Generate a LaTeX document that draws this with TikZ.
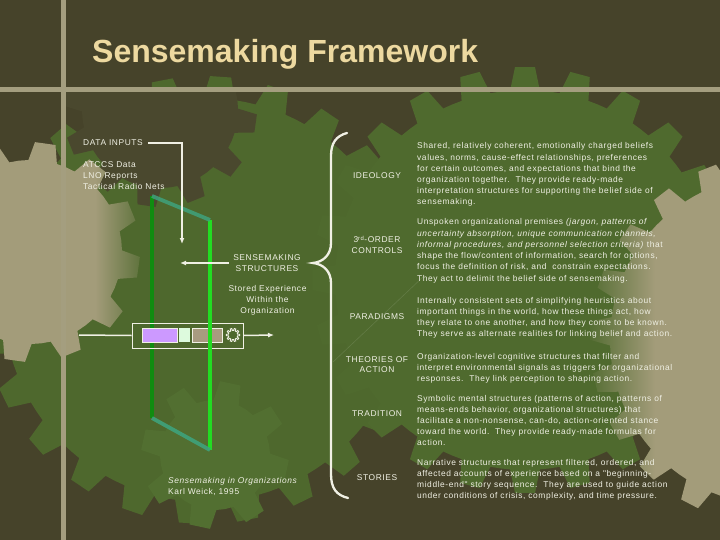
\documentclass[tikz,border=0pt]{standalone}
\usepackage{fontspec}
\setmainfont{Liberation Sans}
\newfontfamily\bodyfont[LetterSpace=7]{Liberation Sans}
\usetikzlibrary{arrows.meta,calc}
\definecolor{bgdark}{HTML}{46432A}
\definecolor{gA}{HTML}{4E682D}
\definecolor{gB}{HTML}{4F6A2E}
\definecolor{gC}{HTML}{4A482E}
\definecolor{gE}{HTML}{526F31}
\definecolor{tanbg}{HTML}{A39C7A}
\definecolor{rulec}{HTML}{A49E7F}
\definecolor{titlec}{HTML}{EDD9A0}
\definecolor{ink}{HTML}{F0F0E4}
\definecolor{dkgreen}{HTML}{108C10}
\definecolor{brgreen}{HTML}{22DD22}
\definecolor{tealc}{HTML}{3FA27C}
\definecolor{purp}{HTML}{CC99FF}
\definecolor{mint}{HTML}{DDFADD}
\definecolor{khaki}{HTML}{A89B80}
\newcommand\gearcmd[7]{%
  \pgfmathsetmacro\gstp{360/#5}%
  \path[#7] ($(#1,#2)+({#6+0.5*\gstp}:#3)$)
    \foreach \k in {1,...,#5}{
      -- ($(#1,#2)+({#6+\k*\gstp-0.3*\gstp}:#3)$)
      -- ($(#1,#2)+({#6+\k*\gstp-0.18*\gstp}:#4)$)
      -- ($(#1,#2)+({#6+\k*\gstp+0.18*\gstp}:#4)$)
      -- ($(#1,#2)+({#6+\k*\gstp+0.3*\gstp}:#3)$)
      -- ($(#1,#2)+({#6+\k*\gstp+0.5*\gstp}:#3)$)
    } -- cycle;}
\tikzset{
  body/.style={font=\bodyfont\fontsize{8.4}{11}\selectfont, text=ink, inner sep=0pt},
  para/.style={body, anchor=base west},
  lab/.style={body, anchor=base},
  conn/.style={draw=ink, line width=1.8pt},
  arr/.style={conn, -{Latex[length=6pt,width=5pt]}},
}
\begin{document}
\begin{tikzpicture}[x=1pt,y=-1pt]
\useasboundingbox (0,0) rectangle (720,540);
% background
\fill[bgdark] (0,0) rectangle (720,540);
\gearcmd{205}{300}{202}{224}{24}{4}{fill=gA}
\gearcmd{525}{280}{190}{213}{24}{0}{fill=gB}
\begin{scope}
  \clip (0,92) rectangle (720,540);
  \gearcmd{160}{110}{78}{97}{12}{8}{fill=gC}
\end{scope}
\gearcmd{215}{455}{55}{74}{8}{12}{fill=gE}
\begin{scope}
  \gearcmd{30}{252}{92}{110}{12}{8}{clip}
  \fill[tanbg] (-100,0) rectangle (95,540);
  \shade[left color=tanbg, right color=gA] (95,0) rectangle (152,540);
\end{scope}
\begin{scope}
  \gearcmd{775}{340}{165}{185}{22}{3}{clip}
  \shade[left color=gB, right color=tanbg] (585,0) rectangle (655,540);
  \fill[tanbg] (655,0) rectangle (900,540);
\end{scope}
\draw[gE!70!white, opacity=0.35, line width=0.6pt] (333,362) -- (424,276);
% rules
\fill[rulec] (61,0) rectangle (66,540);
\fill[rulec] (0,87.5) rectangle (720,92.5);
% title
\node[font=\fontsize{32}{36}\selectfont\bfseries, text=titlec, anchor=base west, inner sep=0pt] (title) at (92,63) {Sensemaking Framework};
% left column
\node[para] (din) at (83,146) {DATA INPUTS};
\node[para] (atc) at (83,167.5) {ATCCS Data};
\node[para] (lno) at (83,178.5) {LNO Reports};
\node[para] (trn) at (83,189.5) {Tactical Radio Nets};
% parallelogram (left edge under the bar)
\draw[dkgreen, line width=3.8pt] (152,196) -- (152,418);
% stored experience bar
\node[draw=ink, line width=0.9pt, minimum width=111pt, minimum height=25pt, inner sep=0pt] (bar) at (187.5,335.5) {};
\node[draw=ink, fill=purp, line width=0.8pt, minimum width=35pt, minimum height=14pt, inner sep=0pt] (pur) at (159.5,335) {};
\node[fill=mint, minimum width=11pt, minimum height=14pt, inner sep=0pt] (mnt) at (184.5,335) {};
\node[draw=ink, fill=khaki, line width=0.8pt, minimum width=30pt, minimum height=14pt, inner sep=0pt] (kha) at (207,335) {};
\gearcmd{233}{335}{4.6}{6.6}{10}{0}{draw=ink, line width=0.9pt}
% parallelogram rest
\draw[brgreen, line width=3.8pt] (210,220) -- (210,450);
\draw[tealc, opacity=0.85, line width=3.8pt] (152,196) -- (210,220);
\draw[tealc, opacity=0.9, line width=3.8pt] (152,418) -- (210,450);
% connectors
\coordinate (dinend) at (182,244);
\draw[arr] ([xshift=5pt]din.east) -| (dinend);
\node[body, align=center] (sense) at (267,263) {SENSEMAKING\\STRUCTURES};
\coordinate (senseend) at (180,263);
\draw[arr] ([xshift=-4pt]sense.west) -- (senseend);
\node[body, align=center] (stored) at (267.5,300.5) {Stored Experience\\Within the\\Organization};
\coordinate (lstart) at (79,335);
\draw[conn, line width=1.5pt] (lstart) -- (bar.west);
\coordinate (rend) at (274,335);
\draw[arr, line width=1.5pt] (bar.east) -- (rend);
% citation
\node[para, font=\bodyfont\itshape\fontsize{8.4}{11}\selectfont] (cit1) at (168,483) {Sensemaking in Organizations};
\node[para] (cit2) at (168,494) {Karl Weick, 1995};
% brace
\draw[ink, line width=2.3pt, line cap=round] (347,133) .. controls (336,136) and (331,143) .. (331,156) -- (331,243) .. controls (331,255) and (323,262) .. (313,263) .. controls (323,264) and (331,271) .. (331,283) -- (331,474) .. controls (331,488) and (336,495) .. (348,498);
% labels
\node[lab] (l1) at (377,179) {IDEOLOGY};
\node[lab] (l2a) at (377,243) {3\textsuperscript{rd}-ORDER};
\node[lab] (l2b) at (377,254) {CONTROLS};
\node[lab] (l3) at (377,319) {PARADIGMS};
\node[lab] (l4a) at (377,362) {THEORIES OF};
\node[lab] (l4b) at (377,372.5) {ACTION};
\node[lab] (l5) at (377,416) {TRADITION};
\node[lab] (l6) at (377,480) {STORIES};
% paragraph 1
\node[para] (p1a) at (417,149) {Shared, relatively coherent, emotionally charged beliefs};
\node[para] (p1b) at (417,160.2) {values, norms, cause-effect relationships, preferences};
\node[para] (p1c) at (417,171.4) {for certain outcomes, and expectations that bind the};
\node[para] (p1d) at (417,182.6) {organization together.\ \ They provide ready-made};
\node[para] (p1e) at (417,193.8) {interpretation structures for supporting the belief side of};
\node[para] (p1f) at (417,205) {sensemaking.};
% paragraph 2
\node[para] (p2a) at (417,225) {Unspoken organizational premises \textit{(jargon, patterns of}};
\node[para] (p2b) at (417,236.2) {\textit{uncertainty absorption, unique communication channels,}};
\node[para] (p2c) at (417,247.4) {\textit{informal procedures, and personnel selection criteria)} that};
\node[para] (p2d) at (417,258.6) {shape the flow/content of information, search for options,};
\node[para] (p2e) at (417,269.8) {focus the definition of risk, and\ \ constrain expectations.};
\node[para] (p2f) at (417,281) {They act to delimit the belief side of sensemaking.};
% paragraph 3
\node[para] (p3a) at (417,303) {Internally consistent sets of simplifying heuristics about};
\node[para] (p3b) at (417,314) {important things in the world, how these things act, how};
\node[para] (p3c) at (417,325) {they relate to one another, and how they come to be known.};
\node[para] (p3d) at (417,336) {They serve as alternate realities for linking belief and action.};
% paragraph 4
\node[para] (p4a) at (417,359) {Organization-level cognitive structures that filter and};
\node[para] (p4b) at (417,370) {interpret environmental signals as triggers for organizational};
\node[para] (p4c) at (417,381) {responses.\ \ They link perception to shaping action.};
% paragraph 5
\node[para] (p5a) at (417,401) {Symbolic mental structures (patterns of action, patterns of};
\node[para] (p5b) at (417,412) {means-ends behavior, organizational structures) that};
\node[para] (p5c) at (417,423) {facilitate a non-nonsense, can-do, action-oriented stance};
\node[para] (p5d) at (417,434) {toward the world.\ \ They provide ready-made formulas for};
\node[para] (p5e) at (417,445) {action.};
% paragraph 6
\node[para] (p6a) at (417,465) {Narrative structures that represent filtered, ordered, and};
\node[para] (p6b) at (417,476) {affected accounts of experience based on a "beginning-};
\node[para] (p6c) at (417,487) {middle-end" story sequence.\ \ They are used to guide action};
\node[para] (p6d) at (417,498) {under conditions of crisis, complexity, and time pressure.};
\end{tikzpicture}
\end{document}
